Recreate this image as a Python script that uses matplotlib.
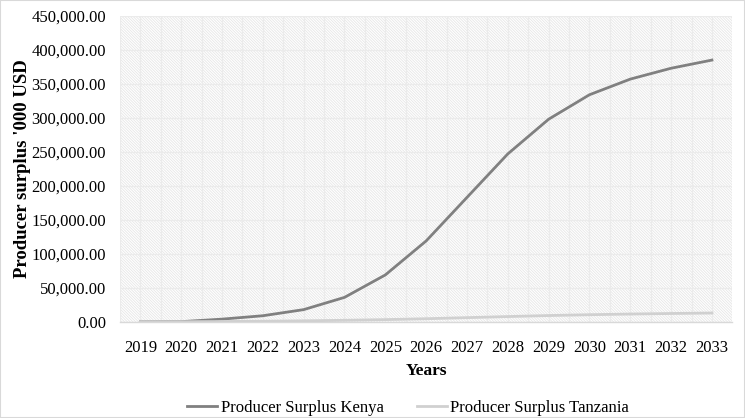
import numpy as np
import matplotlib.pyplot as plt
from matplotlib.patches import Rectangle

years = ['2019', '2020', '2021', '2022', '2023', '2024', '2025', '2026',
         '2027', '2028', '2029', '2030', '2031', '2032', '2033']
kenya = [0, 300, 4000, 9000, 18000, 36000, 69000, 119000,
         183000, 247000, 298000, 334000, 357000, 373000, 385000]
tanzania = [0, 200, 500, 900, 1500, 2300, 3300, 4600,
            6200, 7800, 9300, 10500, 11500, 12300, 13000]

plt.rcParams['font.family'] = ['Liberation Serif', 'DejaVu Serif']
plt.rcParams['hatch.color'] = '#e6e6e6'
plt.rcParams['hatch.linewidth'] = 0.6

fig = plt.figure(figsize=(7.45, 4.18), dpi=100)
ax = fig.add_axes([0.161, 0.230, 0.822, 0.732])

x = np.arange(len(years))

# fondo rayado del area de la grafica
ax.add_patch(Rectangle((0, 0), 1, 1, transform=ax.transAxes, facecolor='white',
                       edgecolor='#e6e6e6', hatch='\\' * 12, linewidth=0, zorder=0))

ax.plot(x, kenya, color='#808080', linewidth=2.0, label='Producer Surplus Kenya', zorder=3)
ax.plot(x, tanzania, color='#d0d0d0', linewidth=2.0, label='Producer Surplus Tanzania', zorder=3)

ax.set_xlim(-0.5, len(years) - 0.5)
ax.set_ylim(0, 450000)
ax.set_xticks(x)
ax.set_xticklabels(years)
ax.set_xticks(np.arange(-0.5, len(years), 1.0), minor=True)
ax.set_yticks(np.arange(0, 450001, 50000))
ax.set_yticklabels(['{:,.2f}'.format(v) for v in np.arange(0, 450001, 50000)])
ax.tick_params(axis='both', which='both', length=0, labelsize=12, colors='black')
ax.tick_params(axis='x', pad=13)
ax.tick_params(axis='y', pad=10)

ax.grid(True, which='major', axis='both', color='#ebebeb', linewidth=0.9, zorder=1)
ax.grid(True, which='minor', axis='x', color='#ebebeb', linewidth=0.9, zorder=1)
ax.set_axisbelow(True)

for s in ['top', 'right', 'left']:
    ax.spines[s].set_visible(False)
ax.spines['bottom'].set_color('#d9d9d9')
ax.spines['bottom'].set_linewidth(1.0)

ax.set_xlabel('Years', fontsize=12.5, fontweight='bold', labelpad=5)
ax.set_ylabel("Producer surplus '000 USD", fontsize=13.5, fontweight='bold', labelpad=0)

fig.legend(loc='center', bbox_to_anchor=(0.548, 0.024), ncol=2, frameon=False,
           fontsize=12, handlelength=1.8, columnspacing=2.0, handletextpad=0.2)

fig.patches.append(Rectangle((0, 0), 1, 1, transform=fig.transFigure, fill=False,
                             edgecolor='#d9d9d9', linewidth=1.5))

fig.savefig('out.png', dpi=100)
